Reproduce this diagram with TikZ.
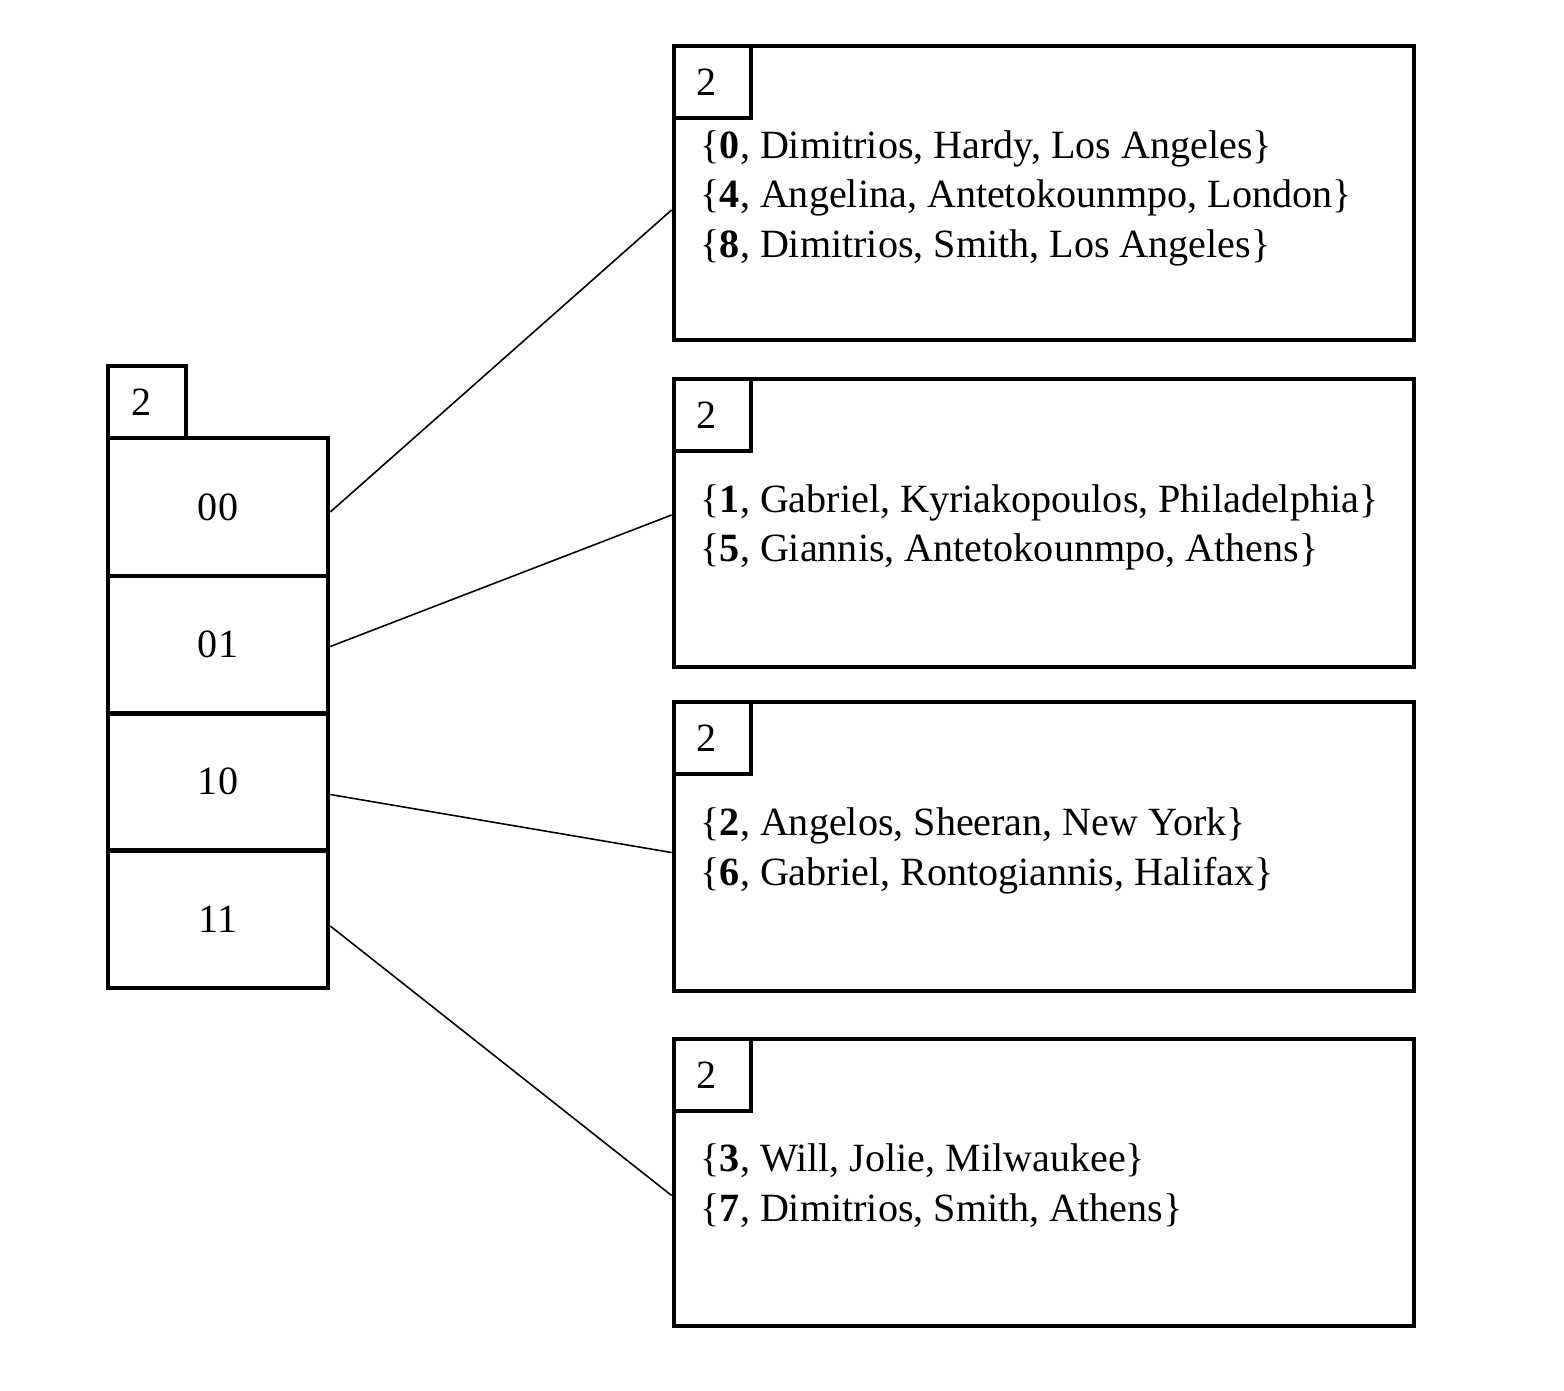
\documentclass[tikz,border=0pt]{standalone}
\usepackage{fontspec}
\setmainfont{Liberation Serif}
\usetikzlibrary{calc}
\newcommand{\recfont}{\fontsize{11.4}{14.2}\selectfont}
\begin{document}
\begin{tikzpicture}[x=0.01cm,y=-0.01cm,
  box/.style={draw,line width=1.25pt,inner sep=0pt,font=\recfont},
  cell/.style={box,minimum width=2.2cm,minimum height=1.375cm},
  depth/.style={box,minimum width=0.77cm,minimum height=0.72cm},
  bucket/.style={box,minimum width=7.4cm},
  rec/.style={inner sep=0pt,anchor=base west,font=\recfont},
  link/.style={line width=0.45pt}]
  \useasboundingbox (0,0) rectangle (1564,1390);
  %%% directory
  \node[depth,minimum width=0.78cm] (gd) at (147,402) {\kern-3.4pt 2};
  \node[cell] (d00) at (218,507) {00};
  \node[cell] (d01) at (218,644.5) {01};
  \node[cell] (d10) at (218,781.5) {10};
  \node[cell] (d11) at (218,919) {11};
  %%% buckets
  \node[bucket,minimum height=2.94cm] (b0) at (1044,193) {};
  \node[bucket,minimum height=2.88cm] (b1) at (1044,523) {};
  \node[bucket,minimum height=2.89cm] (b2) at (1044,846.5) {};
  \node[bucket,minimum height=2.87cm] (b3) at (1044,1182.5) {};
  %%% local depths
  \node[depth,anchor=north west] (l0) at (b0.north west) {\kern-3.4pt 2};
  \node[depth,anchor=north west] (l1) at (b1.north west) {\kern-3.4pt 2};
  \node[depth,anchor=north west] (l2) at (b2.north west) {\kern-3.4pt 2};
  \node[depth,anchor=north west] (l3) at (b3.north west) {\kern-3.4pt 2};
  %%% records
  \node[rec] (r0) at (700,158) {\{\textbf{0}, Dimitrios, Hardy, Los Angeles\}};
  \node[rec] (r4) at (700,207) {\{\textbf{4}, Angelina, Antetokounmpo, London\}};
  \node[rec] (r8) at (700,257) {\{\textbf{8}, Dimitrios, Smith, Los Angeles\}};
  \node[rec] (r1) at (700,512) {\{\textbf{1}, Gabriel, Kyriakopoulos, Philadelphia\}};
  \node[rec] (r5) at (700,561) {\{\textbf{5}, Giannis, Antetokounmpo, Athens\}};
  \node[rec] (r2) at (700,835) {\{\textbf{2}, Angelos, Sheeran, New York\}};
  \node[rec] (r6) at (700,885) {\{\textbf{6}, Gabriel, Rontogiannis, Halifax\}};
  \node[rec] (r3) at (700,1171) {\{\textbf{3}, Will, Jolie, Milwaukee\}};
  \node[rec] (r7) at (700,1221) {\{\textbf{7}, Dimitrios, Smith, Athens\}};
  %%% pointers
  \draw[link] ($(d00.east)+(0,5)$) -- ($(b0.west)+(0,17)$);
  \draw[link] ($(d01.east)+(0,2)$) -- ($(b1.west)+(0,-8)$);
  \draw[link] ($(d10.east)+(0,13)$) -- ($(b2.west)+(0,6)$);
  \draw[link] ($(d11.east)+(0,7)$) -- ($(b3.west)+(0,13)$);
\end{tikzpicture}
\end{document}
